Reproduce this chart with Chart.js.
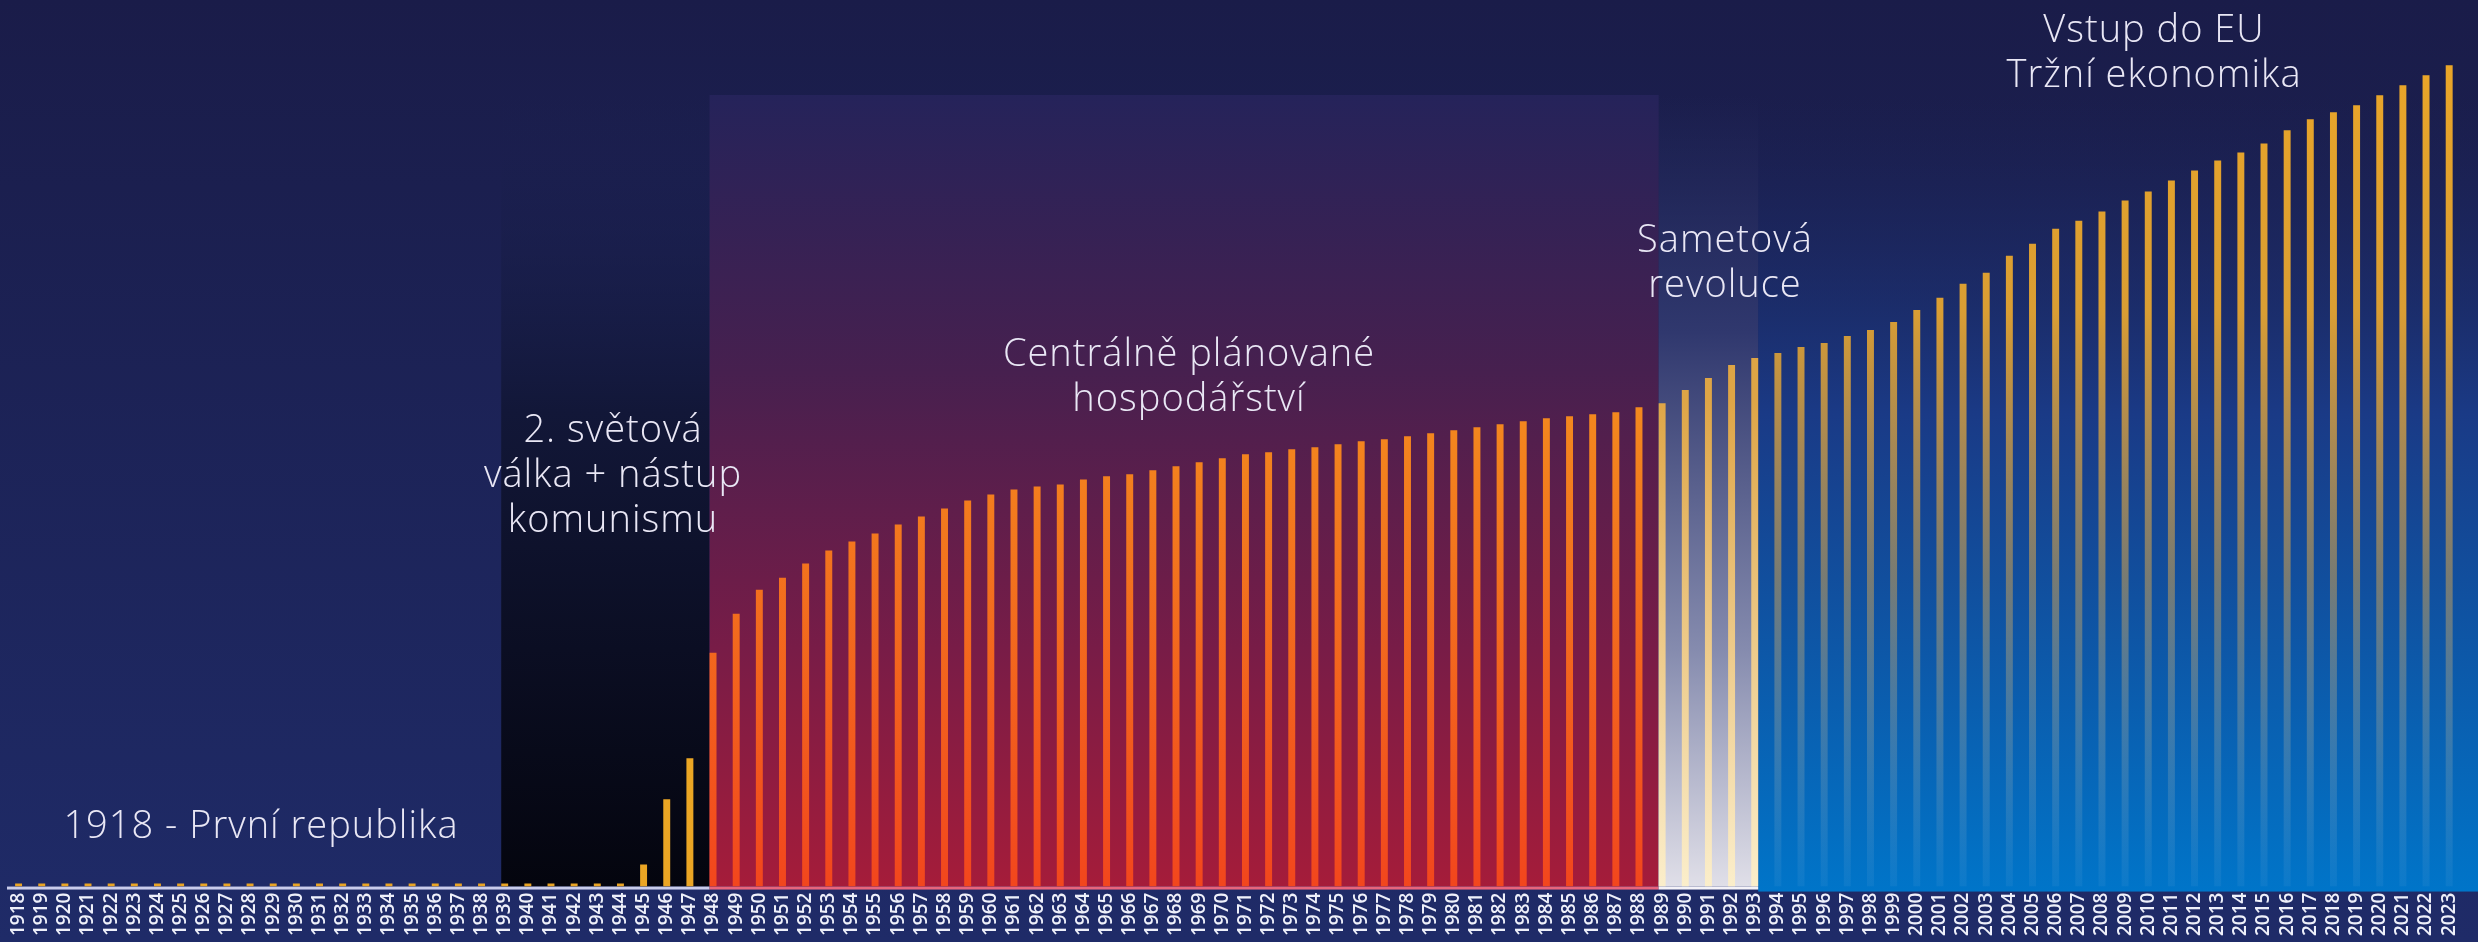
<!DOCTYPE html>
<html>
<head>
<meta charset="utf-8">
<script src="https://cdn.jsdelivr.net/npm/chart.js@4.4.1/dist/chart.umd.min.js"></script>
<style>
  html, body { margin: 0; padding: 0; background: #1c2150; overflow: hidden; }
  canvas { display: block; }
</style>
</head>
<body>
<canvas id="myChart" width="2478" height="942"></canvas>
<script>
// years on the x axis
var years = ['1918','1919','1920','1921','1922','1923','1924','1925','1926','1927',
  '1928','1929','1930','1931','1932','1933','1934','1935','1936','1937',
  '1938','1939','1940','1941','1942','1943','1944','1945','1946','1947',
  '1948','1949','1950','1951','1952','1953','1954','1955','1956','1957',
  '1958','1959','1960','1961','1962','1963','1964','1965','1966','1967',
  '1968','1969','1970','1971','1972','1973','1974','1975','1976','1977',
  '1978','1979','1980','1981','1982','1983','1984','1985','1986','1987',
  '1988','1989','1990','1991','1992','1993','1994','1995','1996','1997',
  '1998','1999','2000','2001','2002','2003','2004','2005','2006','2007',
  '2008','2009','2010','2011','2012','2013','2014','2015','2016','2017',
  '2018','2019','2020','2021','2022','2023'];

// bar heights (relative units)
var values = [3,3,3,3,3,3,3,3,3,3,
  3,3,3,3,3,3,3,3,3,3,
  3,3,3,3,3,3,3,22,87,128,
  233,272,296,308,322,335,344,352,361,369,
  377,385,391,396,399,401,406,409,411,415,
  419,423,427,431,433,436,438,441,444,446,
  449,452,455,458,461,464,467,469,471,473,
  478,482,495,507,520,527,532,538,542,549,
  555,563,575,587,601,612,629,641,656,664,
  673,684,693,704,714,724,732,741,754,765,
  772,779,789,799,809,819];

// eras: first and last year of each shaded band
var eraFirst = ['1939', '1948', '1989', '1994'];
var eraLast  = ['1947', '1988', '1993', '2023'];

// annotation texts
var noteRepublika = ['1918 - První republika'];
var noteValka = ['2. světová', 'válka + nástup', 'komunismu'];
var notePlan = ['Centrálně plánované', 'hospodářství'];
var noteSamet = ['Sametová', 'revoluce'];
var noteEU = ['Vstup do EU', 'Tržní ekonomika'];

var Y_MAX = 884;

function eraOf(i) {
  var y = +years[i];
  if (y >= +eraFirst[3]) return 'blue';
  if (y >= +eraFirst[2]) return 'light';
  if (y >= +eraFirst[1]) return 'red';
  return 'gold';
}

function barColor(c) {
  var chart = c.chart, area = chart.chartArea;
  if (!area) return '#eda823';
  var g = chart.ctx.createLinearGradient(0, area.top, 0, area.bottom);
  var era = eraOf(c.dataIndex);
  if (era === 'blue') {
    g.addColorStop(0, 'rgba(238,168,38,1)');
    g.addColorStop(0.35, 'rgba(228,164,48,0.95)');
    g.addColorStop(0.65, 'rgba(205,160,80,0.55)');
    g.addColorStop(1, 'rgba(150,190,225,0.08)');
  } else if (era === 'light') {
    g.addColorStop(0, '#e0a23a');
    g.addColorStop(0.45, '#dea546');
    g.addColorStop(1, '#fbeecb');
  } else if (era === 'red') {
    g.addColorStop(0, '#f6a020');
    g.addColorStop(0.45, '#f38a1e');
    g.addColorStop(1, '#f2461d');
  } else {
    g.addColorStop(0, '#f0ac22');
    g.addColorStop(1, '#eaa524');
  }
  return g;
}

var backdrop = {
  id: 'backdrop',
  beforeDraw: function(chart) {
    var ctx = chart.ctx, area = chart.chartArea;
    var xs = chart.scales.x;
    var bars = chart.getDatasetMeta(0).data;
    var half = bars[0].width / 2;
    var W = chart.width, H = chart.height;
    var top = 95, bottom = area.bottom;

    function leftOf(year) { return xs.getPixelForValue(years.indexOf(year)) - half; }
    function rightOf(year) { return xs.getPixelForValue(years.indexOf(year)) + half; }

    ctx.save();
    var bg = ctx.createLinearGradient(0, 0, 0, H);
    bg.addColorStop(0, '#1a1c49');
    bg.addColorStop(1, '#1f2b68');
    ctx.fillStyle = bg;
    ctx.fillRect(0, 0, W, H);

    var x0 = leftOf(eraFirst[0]);
    var x1 = leftOf(eraFirst[1]);
    var x2 = leftOf(eraFirst[2]);
    var x3 = rightOf(eraLast[2]);

    // war years
    var g = ctx.createLinearGradient(0, top, 0, bottom);
    g.addColorStop(0, 'rgba(28,33,82,0)');
    g.addColorStop(0.4, '#121738');
    g.addColorStop(1, '#04050e');
    ctx.fillStyle = g;
    ctx.fillRect(x0, top, x1 - x0, bottom - top);

    // planned economy
    g = ctx.createLinearGradient(0, top, 0, bottom);
    g.addColorStop(0, '#25235a');
    g.addColorStop(0.35, '#47204f');
    g.addColorStop(0.7, '#781c47');
    g.addColorStop(1, '#a51c3a');
    ctx.fillStyle = g;
    ctx.fillRect(x1, top, x2 - x1, bottom - top);

    // velvet revolution
    g = ctx.createLinearGradient(0, top, 0, bottom);
    g.addColorStop(0, 'rgba(40,48,100,0)');
    g.addColorStop(0.3, '#30386e');
    g.addColorStop(0.7, '#858bae');
    g.addColorStop(1, '#e0dfe8');
    ctx.fillStyle = g;
    ctx.fillRect(x2, top, x3 - x2, bottom - top);

    // market economy
    g = ctx.createLinearGradient(0, top, 0, bottom + 5);
    g.addColorStop(0, 'rgba(28,36,88,0)');
    g.addColorStop(0.4, '#1a3a86');
    g.addColorStop(1, '#0075c9');
    ctx.fillStyle = g;
    ctx.fillRect(x3, top, W - x3, bottom + 5 - top);

    // axis line
    ctx.fillStyle = '#c9cceb';
    ctx.fillRect(area.left, bottom, x1 - area.left, 3);
    ctx.fillStyle = '#e8647c';
    ctx.fillRect(x1, bottom, x2 - x1, 3);
    ctx.fillStyle = '#f4f2f8';
    ctx.fillRect(x2, bottom, x3 - x2, 3);
    ctx.restore();
  },
  afterDatasetsDraw: function(chart) {
    var ctx = chart.ctx;
    var notes = [
      { lines: noteRepublika, x: 261, y: 838 },
      { lines: noteValka, x: 613, y: 442 },
      { lines: notePlan, x: 1189, y: 366 },
      { lines: noteSamet, x: 1725, y: 252 },
      { lines: noteEU, x: 2154, y: 42 }
    ];
    ctx.save();
    ctx.fillStyle = '#e9e7f5';
    ctx.font = '300 38px "Open Sans"';
    ctx.textAlign = 'center';
    ctx.textBaseline = 'alphabetic';
    if ('letterSpacing' in ctx) ctx.letterSpacing = '1px';
    notes.forEach(function(n) {
      n.lines.forEach(function(line, k) {
        ctx.fillText(line, n.x, n.y + k * 45);
      });
    });
    ctx.restore();
  }
};

var ctx = document.getElementById('myChart').getContext('2d');
var chart = new Chart(ctx, {
  type: 'bar',
  data: {
    labels: years,
    datasets: [{
      data: values,
      backgroundColor: barColor,
      borderWidth: 0,
      barPercentage: 0.3,
      categoryPercentage: 1
    }]
  },
  options: {
    responsive: false,
    animation: false,
    devicePixelRatio: 1,
    layout: { padding: { left: 7, right: 2, top: 0, bottom: 0 } },
    plugins: { legend: { display: false }, tooltip: { enabled: false } },
    scales: {
      x: {
        grid: { display: false, drawTicks: false },
        border: { display: false },
        ticks: {
          autoSkip: false,
          maxRotation: 90,
          minRotation: 90,
          padding: 6,
          color: '#eef0fa',
          font: { family: 'Open Sans', weight: '600', size: 19 }
        }
      },
      y: {
        display: false,
        min: 0,
        max: Y_MAX
      }
    }
  },
  plugins: [backdrop]
});
</script>
</body>
</html>
